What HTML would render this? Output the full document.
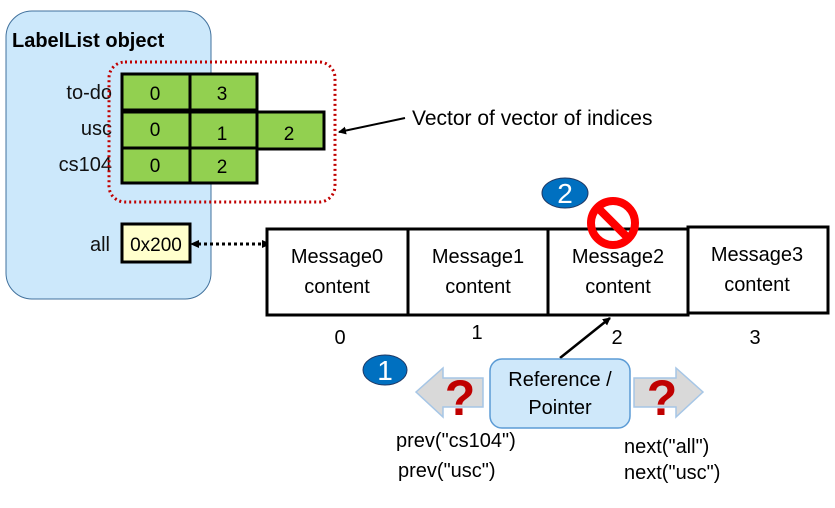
<!DOCTYPE html>
<html><head><style>
body{margin:0;width:835px;height:503px;background:#fff;overflow:hidden}
svg text{font-family:"Liberation Sans",sans-serif}
</style></head><body>
<svg width="835" height="503" viewBox="0 0 835 503" xmlns="http://www.w3.org/2000/svg">
<defs>
<marker id="ah" markerWidth="8" markerHeight="8" refX="7" refY="4" orient="auto" markerUnits="userSpaceOnUse"><path d="M0,0 L8,4 L0,8z" fill="#000"/></marker>
</defs>
<rect x="6" y="11" width="205" height="288" rx="26" fill="#cce8fb" stroke="#41719c" stroke-width="1"/>
<text x="12" y="47" font-size="20" font-weight="bold">LabelList object</text>
<g font-size="20" text-anchor="end" fill="#111">
<text x="112" y="99">to-do</text><text x="112" y="135">usc</text><text x="112" y="171">cs104</text>
<text x="110" y="251">all</text></g>
<g fill="#92d050" stroke="#000" stroke-width="3">
<rect x="122" y="74" width="68" height="36"/><rect x="190" y="74" width="67" height="36"/>
<rect x="122" y="112" width="68" height="36"/><rect x="190" y="112" width="67" height="36"/><rect x="257" y="112" width="67" height="37"/>
<rect x="122" y="148" width="68" height="35"/><rect x="190" y="148" width="67" height="35"/>
</g>
<g font-size="19" text-anchor="middle">
<text x="155" y="100">0</text><text x="222" y="100">3</text>
<text x="155" y="136">0</text><text x="222" y="140">1</text><text x="289" y="140">2</text>
<text x="155" y="172">0</text><text x="222" y="173">2</text></g>
<rect x="109" y="62" width="226" height="140" rx="16" fill="none" stroke="#c00000" stroke-width="3" stroke-dasharray="2,3"/>
<line x1="405" y1="118" x2="339" y2="132" stroke="#000" stroke-width="2" marker-end="url(#ah)"/>
<text x="412" y="125" font-size="21">Vector of vector of indices</text>
<rect x="122" y="224" width="68" height="38" fill="#ffffcc" stroke="#000" stroke-width="3"/>
<text x="156" y="251" font-size="19" text-anchor="middle">0x200</text>
<line x1="198" y1="244" x2="264" y2="244" stroke="#000" stroke-width="3" stroke-dasharray="3,3"/>
<path d="M190,244 L199,240 L199,248z M271,244 L262,240 L262,248z" fill="#000"/>
<g fill="#fff" stroke="#000" stroke-width="3">
<rect x="267" y="229" width="141" height="86"/><rect x="408" y="229" width="140" height="86"/><rect x="548" y="229" width="140" height="86"/><rect x="688" y="227" width="140" height="86"/>
</g>
<g font-size="20" text-anchor="middle">
<text x="337" y="263">Message0</text><text x="337" y="293">content</text>
<text x="478" y="263">Message1</text><text x="478" y="293">content</text>
<text x="618" y="263">Message2</text><text x="618" y="293">content</text>
<text x="757" y="261">Message3</text><text x="757" y="291">content</text>
<text x="340" y="344">0</text><text x="477" y="339">1</text><text x="617" y="344">2</text><text x="755" y="344">3</text></g>
<ellipse cx="565" cy="193" rx="23" ry="15" fill="#0070c0" stroke="#1f3864"/>
<text x="565" y="203" font-size="28" fill="#fff" text-anchor="middle">2</text>
<circle cx="613" cy="223" r="22" fill="none" stroke="#ff0000" stroke-width="8"/>
<line x1="598" y1="208" x2="628" y2="238" stroke="#ff0000" stroke-width="8"/>
<line x1="560" y1="358" x2="610" y2="318" stroke="#000" stroke-width="2.5" marker-end="url(#ah)"/>
<path d="M416,392 L443,368 L443,378 L483,378 L483,407 L443,407 L443,417z" fill="#d9d9d9" stroke="#a6c6e6" stroke-width="1.5"/>
<path d="M703,392 L676,368 L676,378 L634,378 L634,407 L676,407 L676,417z" fill="#d9d9d9" stroke="#a6c6e6" stroke-width="1.5"/>
<rect x="490" y="359" width="140" height="69" rx="12" fill="#cfe8fa" stroke="#5b9bd5" stroke-width="1.5"/>
<text x="560" y="386" font-size="20" text-anchor="middle">Reference /</text>
<text x="560" y="414" font-size="20" text-anchor="middle">Pointer</text>
<g font-size="50" font-weight="bold" fill="#c00000" text-anchor="middle"><text x="460" y="415">?</text><text x="662" y="415">?</text></g>
<ellipse cx="385" cy="370" rx="22" ry="15" fill="#0070c0" stroke="#1f3864"/>
<text x="385" y="380" font-size="28" fill="#fff" text-anchor="middle">1</text>
<g font-size="20"><text x="396" y="447">prev("cs104")</text><text x="398" y="477">prev("usc")</text>
<text x="624" y="453">next("all")</text><text x="624" y="479">next("usc")</text></g>
</svg>
</body></html>
